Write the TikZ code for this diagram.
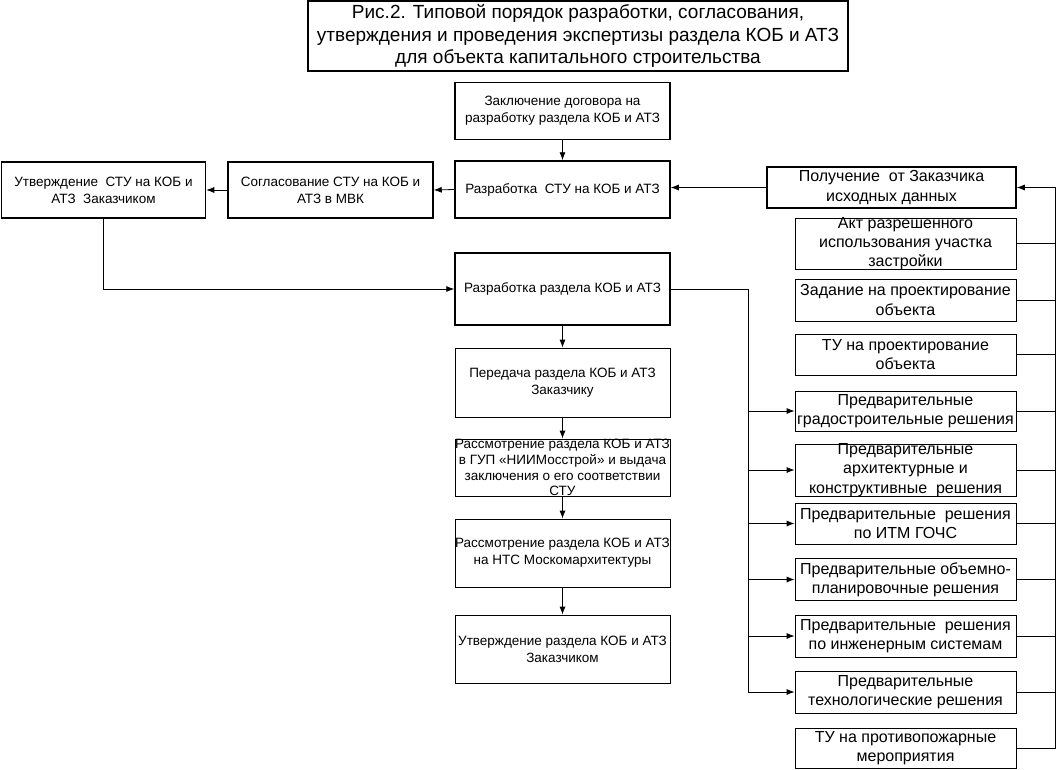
\documentclass[tikz,border=0pt]{standalone}
\usepackage{fontspec}
\setmainfont{Liberation Sans}
\usetikzlibrary{arrows.meta}
\begin{document}
\begin{tikzpicture}[x=1pt,y=-1pt,
  thickbox/.style={draw=black,line width=1.5pt,inner sep=0pt,fill=white},
  thinbox/.style={draw=black,line width=0.8pt,inner sep=0pt,fill=white},
  ctxt/.style={align=center,inner sep=0pt,font=\fontsize{13.5}{16.7}\selectfont},
  rtxt/.style={align=center,inner sep=0pt,font=\fontsize{16}{19.2}\selectfont},
  ttxt/.style={align=center,inner sep=0pt,font=\fontsize{19}{22.5}\selectfont},
  conn/.style={draw=black,line width=0.8pt},
  arr/.style={conn,-{Latex[length=8pt,width=6pt]}}]
\useasboundingbox (0,0) rectangle (1057,769);
% title
\node[thickbox,minimum width=540pt,minimum height=70pt] (title) at (578,36) {};
\node[ttxt] (titlet) at (title) {Рис.2. Типовой порядок разработки, согласования,\\утверждения и проведения экспертизы раздела КОБ и АТЗ\\для объекта капитального строительства};
% top row
\node[thickbox,minimum width=215pt,minimum height=57pt] (zakl) at (562.5,111) {};
\node[ctxt] (zaklt) at (zakl) {Заключение договора на\\разработку раздела КОБ и АТЗ};
\node[thickbox,minimum width=215pt,minimum height=57pt] (rstu) at (562.5,189.5) {};
\node[ctxt] (rstut) at (rstu) {Разработка\ \ СТУ на КОБ и АТЗ};
\node[thickbox,minimum width=205pt,minimum height=56pt] (sogl) at (330.5,190) {};
\node[ctxt] (soglt) at (sogl) {Согласование СТУ на КОБ и\\АТЗ в МВК};
\node[thickbox,minimum width=204pt,minimum height=56pt] (utvstu) at (103.5,190) {};
\node[ctxt] (utvstut) at (utvstu) {Утверждение\ \ СТУ на КОБ и\\АТЗ\ \ Заказчиком};
% centre column
\node[thickbox,minimum width=215pt,minimum height=72pt] (rrazd) at (562.5,289) {};
\node[ctxt] (rrazdt) at (rrazd) {Разработка раздела КОБ и АТЗ};
\node[thinbox,minimum width=215pt,minimum height=69pt] (pered) at (562.5,382.5) {};
\node[ctxt] (peredt) at (pered) {Передача раздела КОБ и АТЗ\\Заказчику};
\node[thinbox,minimum width=215pt,minimum height=57pt] (gup) at (562.5,467.5) {};
\node[ctxt,font=\fontsize{13.5}{15.7}\selectfont] (gupt) at (562.5,467.5) {Рассмотрение раздела КОБ и АТЗ\\в ГУП «НИИМосстрой» и выдача\\заключения о его соответствии\\СТУ};
\node[thinbox,minimum width=215pt,minimum height=68pt] (nts) at (562.5,553) {};
\node[ctxt] (ntst) at (nts) {Рассмотрение раздела КОБ и АТЗ\\на НТС Москомархитектуры};
\node[thinbox,minimum width=215pt,minimum height=68pt] (utvr) at (562.5,649) {};
\node[ctxt] (utvrt) at (utvr) {Утверждение раздела КОБ и АТЗ\\Заказчиком};
% right column
\node[thickbox,minimum width=249pt,minimum height=41pt] (poluch) at (891.5,187.5) {};
\node[rtxt] (poluch t) at (poluch) {Получение\ \ от Заказчика\\исходных данных};
\node[thinbox,minimum width=221pt,minimum height=51pt] (akt) at (905.5,243.5) {};
\node[rtxt] (aktt) at (akt) {Акт разрешенного\\использования участка\\застройки};
\node[thinbox,minimum width=221pt,minimum height=42pt] (zad) at (905.5,300) {};
\node[rtxt] (zadt) at (zad) {Задание на проектирование\\объекта};
\node[thinbox,minimum width=221pt,minimum height=41pt] (tu) at (905.5,354.5) {};
\node[rtxt] (tut) at (tu) {ТУ на проектирование\\объекта};
\node[thinbox,minimum width=221pt,minimum height=40pt] (grad) at (905.5,411) {};
\node[rtxt] (gradt) at (grad) {Предварительные\\градостроительные решения};
\node[thinbox,minimum width=221pt,minimum height=52pt] (arch) at (905.5,470) {};
\node[rtxt] (archt) at (arch) {Предварительные\\архитектурные и\\конструктивные\ \ решения};
\node[thinbox,minimum width=221pt,minimum height=41pt] (itm) at (905.5,523.5) {};
\node[rtxt] (itmt) at (itm) {Предварительные\ \ решения\\по ИТМ ГОЧС};
\node[thinbox,minimum width=221pt,minimum height=42pt] (obem) at (905.5,579.5) {};
\node[rtxt] (obemt) at (obem) {Предварительные объемно-\\планировочные решения};
\node[thinbox,minimum width=221pt,minimum height=42pt] (inzh) at (905.5,636) {};
\node[rtxt] (inzht) at (inzh) {Предварительные\ \ решения\\по инженерным системам};
\node[thinbox,minimum width=221pt,minimum height=42pt] (tech) at (905.5,692) {};
\node[rtxt] (techt) at (tech) {Предварительные\\технологические решения};
\node[thinbox,minimum width=221pt,minimum height=40pt] (pozh) at (905.5,748) {};
\node[rtxt] (pozht) at (pozh) {ТУ на противопожарные\\мероприятия};
% bus coordinates
\coordinate (rbus) at (1055,0);
\coordinate (lbus) at (748,0);
% connectors
\draw[arr] (zakl.south) -- (rstu.north);
\draw[arr] (rstu.west) -- (sogl.east);
\draw[arr] (sogl.west) -- (utvstu.east);
\draw[arr] (poluch.west) -- (rstu.east |- poluch.west);
\draw[arr] (utvstu.south) |- (rrazd.west);
\draw[arr] (rrazd.south) -- (pered.north);
\draw[arr] (pered.south) -- (gup.north);
\draw[arr] (gup.south) -- (nts.north);
\draw[arr] (nts.south) -- (utvr.north);
% left bus
\draw[arr] (rrazd.east) -| (tech.west -| lbus) -- (tech.west);
\foreach \n in {grad,arch,itm,obem,inzh}
  \draw[arr] (\n.west -| lbus) -- (\n.west);
% right bus
\draw[arr] (pozh.east) -- (pozh.east -| rbus) |- (poluch.east);
\foreach \n in {akt,zad,tu,grad,arch,itm,obem,inzh,tech}
  \draw[conn] (\n.east) -- (\n.east -| rbus);
\end{tikzpicture}
\end{document}
